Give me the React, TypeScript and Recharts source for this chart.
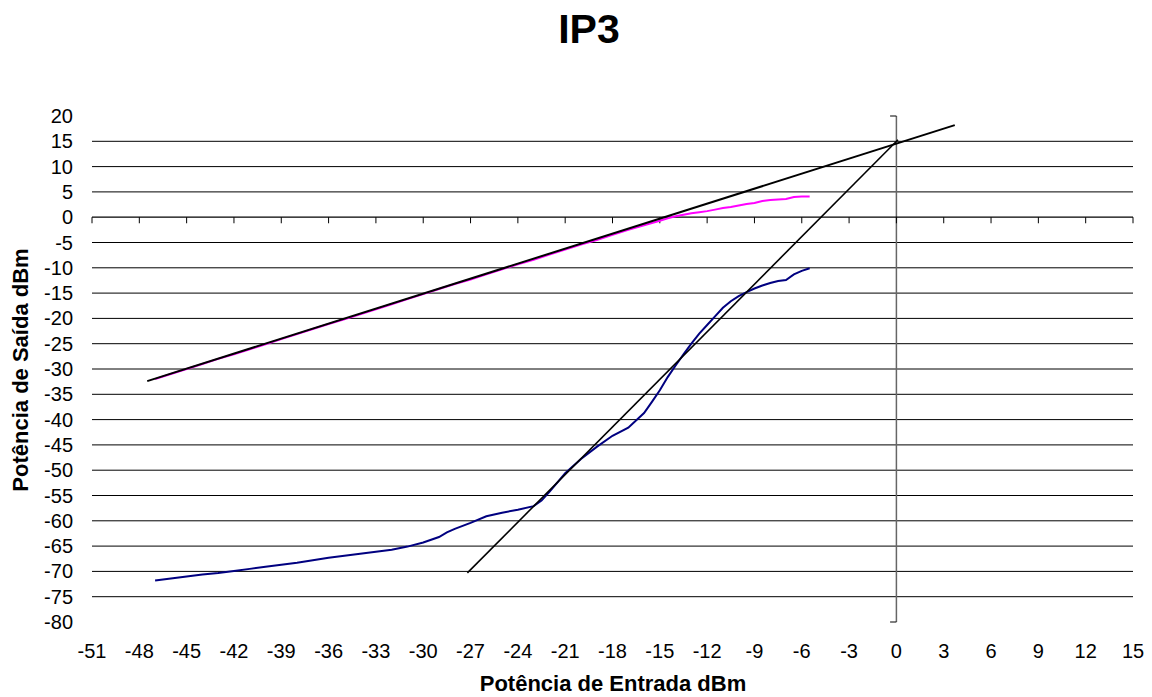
import { Line, LineChart, ReferenceLine, XAxis, YAxis } from "recharts"

const FONT = "'Liberation Sans', Arial, sans-serif"

const xTicks = [-51, -48, -45, -42, -39, -36, -33, -30, -27, -24, -21, -18, -15, -12, -9, -6, -3, 0, 3, 6, 9, 12, 15]
const yTicks = [-80, -75, -70, -65, -60, -55, -50, -45, -40, -35, -30, -25, -20, -15, -10, -5, 0, 5, 10, 15, 20]
const gridLevels = [-75, -70, -65, -60, -55, -50, -45, -40, -35, -30, -25, -20, -15, -10, -5, 5, 10, 15]

// potência de entrada (dBm)
const fundIn = [
  -47, -46, -45, -44, -43, -42, -41, -40, -39, -38, -37, -36, -35, -34, -33, -32, -31, -30, -29, -28,
  -27, -26, -25, -24, -23, -22, -21, -20, -19, -18, -17, -16, -15, -14.5, -14, -13.5, -13, -12.5, -12,
  -11.5, -11, -10.5, -10, -9.5, -9, -8.5, -8, -7.5, -7, -6.5, -6, -5.5,
]
// saída fundamental (dBm)
const fundOut = [
  -32.0, -31.0, -30.0, -29.0, -28.0, -27.1, -26.1, -25.1, -24.1, -23.1, -22.1, -21.1, -20.2, -19.2, -18.2,
  -17.2, -16.2, -15.2, -14.2, -13.2, -12.3, -11.3, -10.3, -9.3, -8.4, -7.4, -6.4, -5.4, -4.5, -3.5, -2.5,
  -1.6, -0.7, -0.2, 0.2, 0.5, 0.8, 1.0, 1.2, 1.5, 1.8, 2.0, 2.3, 2.6, 2.8, 3.2, 3.4, 3.5, 3.6, 4.0, 4.1, 4.1,
]

const im3In = [
  -47, -46, -45, -44, -43, -42, -41, -40, -39, -38, -37, -36, -35, -34, -33, -32, -31, -30, -29, -28.5,
  -28, -27, -26, -25, -24, -23, -22.5, -22, -21, -20, -19, -18, -17, -16, -15.5, -15, -14.5, -14, -13.5,
  -13, -12.5, -12, -11.5, -11, -10.5, -10, -9.5, -9, -8.5, -8, -7.5, -7, -6.5, -6, -5.5,
]
// produto de intermodulação de 3a ordem (dBm)
const im3Out = [
  -71.8, -71.4, -71.0, -70.6, -70.3, -69.9, -69.5, -69.1, -68.7, -68.3, -67.8, -67.3, -66.9, -66.5, -66.1,
  -65.7, -65.1, -64.3, -63.2, -62.3, -61.6, -60.4, -59.1, -58.4, -57.8, -57.1, -56.0, -54.3, -50.6, -47.8,
  -45.4, -43.2, -41.6, -38.7, -36.5, -34.2, -31.6, -29.3, -27.1, -25.0, -23.0, -21.3, -19.6, -17.9, -16.6,
  -15.6, -14.8, -14.1, -13.5, -13.0, -12.6, -12.4, -11.3, -10.6, -10.1,
]

// retas extrapoladas
const fundFitIn = [-47.5, 3.7]
const fundFitOut = [-32.4, 18.2]
const im3FitIn = [-27.2, 0.1]
const im3FitOut = [-70.3, 15.3]

const zip = (xs: number[], ys: number[]) => xs.map((x, i) => ({ x, y: ys[i] }))

const XTick = ({ x, payload }: any) => (
  <text x={x} y={651} textAnchor="middle" dominantBaseline="central" fontSize={20} fontFamily={FONT} fill="#000">
    {payload.value}
  </text>
)

const YTick = ({ y, payload }: any) => (
  <text x={73} y={y} textAnchor="end" dominantBaseline="central" fontSize={20} fontFamily={FONT} fill="#000">
    {payload.value}
  </text>
)

export default function App() {
  return (
    <div style={{ position: "absolute", left: 0, top: 0, width: 1152, height: 697, background: "#fff", overflow: "hidden" }}>
      <div
        style={{
          position: "absolute",
          left: 0,
          width: 1178,
          top: 6,
          textAlign: "center",
          fontFamily: FONT,
          fontWeight: "bold",
          fontSize: 41,
        }}
      >
        IP3
      </div>
      <LineChart width={1152} height={697} margin={{ top: 116, right: 19, bottom: 0, left: 0 }}>
        <XAxis
          dataKey="x"
          type="number"
          domain={[-51, 15]}
          ticks={xTicks}
          interval={0}
          height={75}
          axisLine={false}
          tickLine={false}
          tick={<XTick />}
          allowDataOverflow
        />
        <YAxis
          type="number"
          domain={[-80, 20]}
          ticks={yTicks}
          interval={0}
          width={92}
          axisLine={false}
          tickLine={false}
          tick={<YTick />}
          allowDataOverflow
        />
        {gridLevels.map((v) => (
          <ReferenceLine key={"g" + v} y={v} stroke="#000" strokeWidth={1} />
        ))}
        <ReferenceLine x={0} stroke="#666" strokeWidth={1.5} />
        <ReferenceLine segment={[{ x: 0, y: 20 }, { x: -0.4, y: 20 }]} stroke="#000" />
        <ReferenceLine segment={[{ x: 0, y: -80 }, { x: -0.4, y: -80 }]} stroke="#000" />
        <ReferenceLine y={0} stroke="#000" strokeWidth={1.2} />
        {xTicks.map((t) => (
          <ReferenceLine key={"t" + t} segment={[{ x: t, y: 0 }, { x: t, y: -1.2 }]} stroke="#000" />
        ))}
        <Line
          data={zip(fundIn, fundOut)}
          dataKey="y"
          type="linear"
          stroke="#ff00ff"
          strokeWidth={2}
          dot={false}
          isAnimationActive={false}
        />
        <Line
          data={zip(im3In, im3Out)}
          dataKey="y"
          type="linear"
          stroke="#000080"
          strokeWidth={2}
          dot={false}
          isAnimationActive={false}
        />
        <Line
          data={zip(fundFitIn, fundFitOut)}
          dataKey="y"
          type="linear"
          stroke="#000"
          strokeWidth={2}
          dot={false}
          isAnimationActive={false}
        />
        <Line
          data={zip(im3FitIn, im3FitOut)}
          dataKey="y"
          type="linear"
          stroke="#000"
          strokeWidth={1.6}
          dot={false}
          isAnimationActive={false}
        />
      </LineChart>
      <div
        style={{
          position: "absolute",
          left: 0,
          width: 1226,
          top: 673,
          lineHeight: "22px",
          textAlign: "center",
          fontFamily: FONT,
          fontWeight: "bold",
          fontSize: 22,
        }}
      >
        Potência de Entrada dBm
      </div>
      <div
        style={{
          position: "absolute",
          left: 21,
          top: 370,
          lineHeight: "22px",
          transform: "translate(-50%, -50%) rotate(-90deg)",
          whiteSpace: "nowrap",
          fontFamily: FONT,
          fontWeight: "bold",
          fontSize: 22,
        }}
      >
        Potência de Saída dBm
      </div>
    </div>
  )
}
